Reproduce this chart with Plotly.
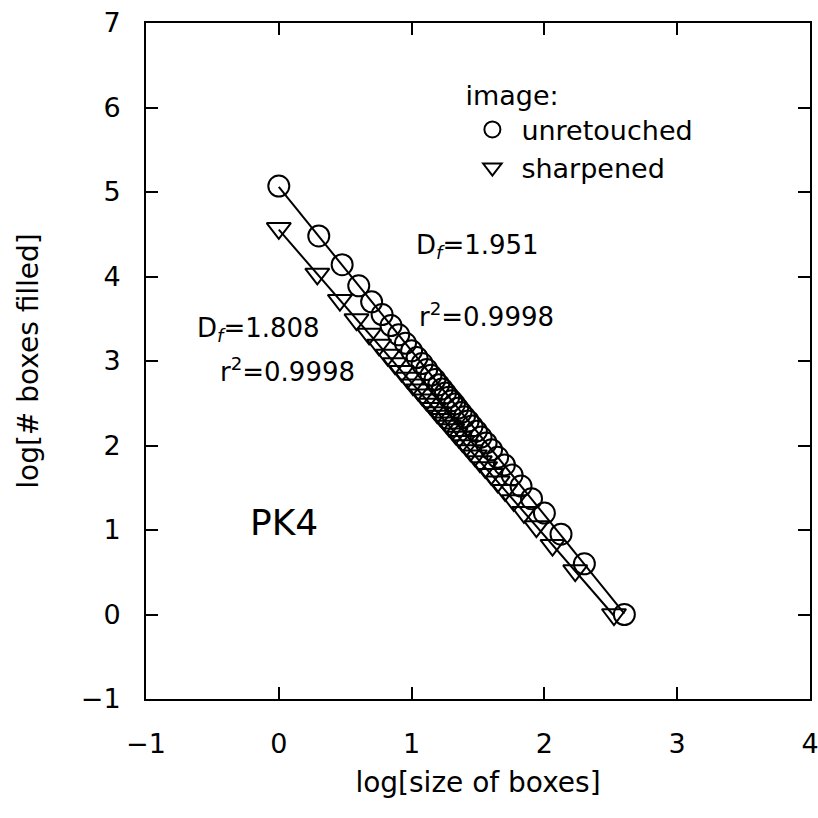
import numpy as np
import plotly.graph_objects as go

# unretouched image (circles): log[size of boxes], log[# boxes filled]
unret_x = [0.000, 0.301, 0.477, 0.602, 0.699, 0.778, 0.845, 0.903, 0.954, 1.000,
           1.041, 1.079, 1.114, 1.146, 1.176, 1.204, 1.230, 1.255, 1.279, 1.301,
           1.323, 1.347, 1.372, 1.398, 1.426, 1.456, 1.488, 1.523, 1.561, 1.602,
           1.648, 1.699, 1.757, 1.824, 1.903, 2.000, 2.125, 2.301, 2.602]
unret_y = [5.07, 4.48, 4.14, 3.89, 3.70, 3.55, 3.42, 3.31, 3.21, 3.12,
           3.04, 2.97, 2.90, 2.83, 2.78, 2.72, 2.67, 2.62, 2.57, 2.53,
           2.49, 2.44, 2.39, 2.34, 2.29, 2.23, 2.17, 2.10, 2.03, 1.95,
           1.86, 1.77, 1.65, 1.52, 1.37, 1.20, 0.95, 0.60, 0.00]

# sharpened image (triangles)
sharp_x = [0.000, 0.290, 0.460, 0.585, 0.680, 0.755, 0.820, 0.875, 0.925, 0.970,
           1.010, 1.047, 1.080, 1.112, 1.141, 1.168, 1.193, 1.217, 1.241, 1.262,
           1.283, 1.307, 1.331, 1.356, 1.383, 1.412, 1.443, 1.477, 1.514, 1.554,
           1.599, 1.648, 1.704, 1.769, 1.846, 1.940, 2.061, 2.232, 2.524]
sharp_y = [4.57, 4.03, 3.72, 3.49, 3.32, 3.19, 3.07, 2.97, 2.88, 2.80,
           2.72, 2.66, 2.60, 2.54, 2.49, 2.44, 2.39, 2.35, 2.31, 2.27,
           2.23, 2.19, 2.14, 2.10, 2.05, 2.00, 1.94, 1.88, 1.81, 1.74,
           1.66, 1.57, 1.47, 1.35, 1.21, 1.04, 0.82, 0.52, 0.00]

x_ticks = [-1, 0, 1, 2, 3, 4]
x_ticktext = ["\u22121", "0", "1", "2", "3", "4"]
y_ticks = [-1, 0, 1, 2, 3, 4, 5, 6, 7]
y_ticktext = ["\u22121", "0", "1", "2", "3", "4", "5", "6", "7"]

FONT = "DejaVu Sans"

fig = go.Figure()

# regression lines
for xs, ys in [(unret_x, unret_y), (sharp_x, sharp_y)]:
    xa = np.array(xs)
    k, b = np.polyfit(xa, np.array(ys), 1)
    xl = np.array([xa.min(), xa.max()])
    fig.add_trace(go.Scatter(x=xl, y=k * xl + b, mode="lines",
                             line=dict(color="black", width=2),
                             showlegend=False, hoverinfo="skip"))

fig.add_trace(go.Scatter(x=unret_x, y=unret_y, mode="markers", name="unretouched",
                         marker=dict(symbol="circle-open", size=21, color="black",
                                     line=dict(width=2, color="black"))))
fig.add_trace(go.Scatter(x=sharp_x, y=sharp_y, mode="markers", name="sharpened",
                         marker=dict(symbol="triangle-down-open", size=21, color="black",
                                     line=dict(width=2, color="black"))))

ann_font = dict(family=FONT, size=26, color="black")
fig.add_annotation(x=1.02, y=4.35, text="D<sub><i>f</i></sub>=1.951", showarrow=False,
                   xanchor="left", yanchor="middle", font=ann_font)
fig.add_annotation(x=1.04, y=3.55, text="r<sup>2</sup>=0.9998", showarrow=False,
                   xanchor="left", yanchor="middle", font=ann_font)
fig.add_annotation(x=-0.63, y=3.37, text="D<sub><i>f</i></sub>=1.808", showarrow=False,
                   xanchor="left", yanchor="middle", font=ann_font)
fig.add_annotation(x=-0.46, y=2.89, text="r<sup>2</sup>=0.9998", showarrow=False,
                   xanchor="left", yanchor="middle", font=ann_font)
fig.add_annotation(x=-0.23, y=1.09, text="PK4", showarrow=False,
                   xanchor="left", yanchor="middle",
                   font=dict(family=FONT, size=36, color="black"))

axis_common = dict(showline=True, linecolor="black", linewidth=2, mirror="ticks",
                   ticks="inside", ticklen=12, tickwidth=2, tickcolor="black",
                   showgrid=False, zeroline=False, automargin=False,
                   ticklabeloverflow="allow",
                   tickfont=dict(family=FONT, size=27, color="black"))

fig.update_xaxes(range=[-1, 4], tickvals=x_ticks, ticktext=x_ticktext,
                 title=dict(text="log[size of boxes]", standoff=14,
                            font=dict(family=FONT, size=28, color="black")),
                 ticklabelstandoff=20, **axis_common)
fig.update_yaxes(range=[-1, 7], tickvals=y_ticks, ticktext=y_ticktext,
                 title=dict(text="log[# boxes filled]", standoff=34,
                            font=dict(family=FONT, size=28, color="black")),
                 ticklabelstandoff=18, **axis_common)

fig.update_layout(
    width=818, height=818,
    margin=dict(l=146, r=8, t=23, b=119),
    paper_bgcolor="white", plot_bgcolor="white",
    showlegend=True,
    legend=dict(x=0.478, y=0.93, xanchor="left", yanchor="top",
                bgcolor="rgba(0,0,0,0)",
                title=dict(text="image:", side="top",
                           font=dict(family=FONT, size=27, color="black")),
                font=dict(family=FONT, size=27, color="black"),
                itemwidth=48),
)

fig.write_html("out.html", config={"displayModeBar": False},
               post_script="document.body.style.margin='0';document.body.style.overflow='hidden';")
